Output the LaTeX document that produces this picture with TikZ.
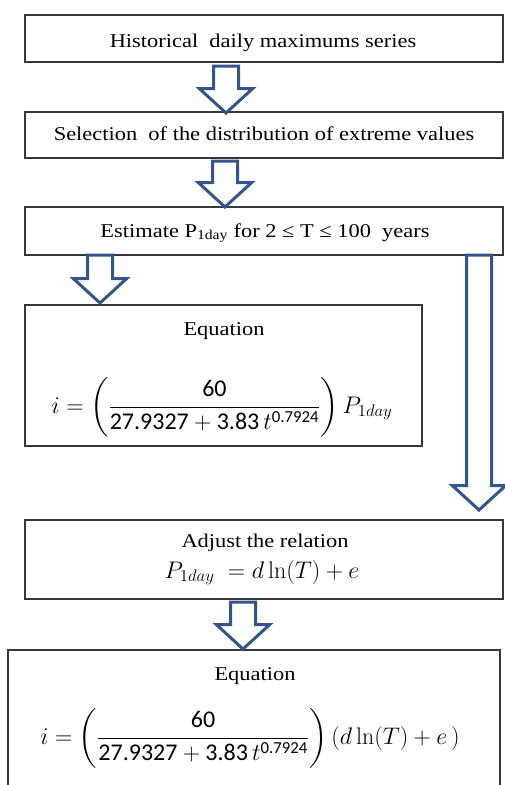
\RequirePackage{fix-cm}
\documentclass[tikz,border=0pt]{standalone}
\usepackage{amsmath}
\usepackage[no-math]{fontspec}
\setmainfont{Liberation Serif}[FakeStretch=1.15]
\newfontfamily\numf{Carlito}
\usetikzlibrary{shapes.arrows}
\definecolor{arrowblue}{RGB}{50,85,140}
\definecolor{boxgray}{RGB}{55,55,60}
\newcommand{\nm}[1]{\text{\numf #1}}
\tikzset{
  box/.style={draw=boxgray, line width=1.4pt, rectangle, inner sep=0pt, outer sep=0pt, anchor=north west},
  boxline/.style={draw=boxgray, line width=1.4pt},
  txt/.style={font=\fontsize{19.5}{22}\selectfont, inner sep=0pt, anchor=base},
  eqn/.style={font=\fontsize{24}{28}\selectfont, inner sep=0pt, anchor=base},
  blockarrow/.style={single arrow, draw=arrowblue, line width=3pt, fill=white,
    rotate=-90, anchor=tail, inner xsep=0pt, inner ysep=11pt, outer sep=0pt,
    single arrow head extend=14pt, single arrow tip angle=95}
}
\begin{document}
\begin{tikzpicture}[x=1pt,y=-1pt]
\useasboundingbox (0,0) rectangle (504,785);
\fill[white] (0,0) rectangle (504,785);
% boxes
\node[box, minimum width=478pt, minimum height=47pt] (b1) at (25,15) {};
\node[box, minimum width=478pt, minimum height=46pt] (b2) at (25,112) {};
\node[box, minimum width=478pt, minimum height=48pt] (b3) at (25,207) {};
\node[box, minimum width=397pt, minimum height=141pt] (b4) at (25,305) {};
\node[box, minimum width=478pt, minimum height=79pt] (b5) at (25,520) {};
\node[inner sep=0pt, outer sep=0pt, minimum width=492pt, minimum height=160pt, anchor=north west] (b6) at (8,650) {};
\draw[boxline] (b6.south west) -- (b6.north west) -- (b6.north east) -- (b6.south east);
% texts
\node[txt] (t1) at (263,47) {Historical\ \ daily maximums series};
\node[txt] (t2) at (264,140) {Selection\ \ of the distribution of extreme values};
\node[txt] (t3) at (265,237) {Estimate P\textsubscript{1day} for 2 ≤ T ≤ 100\ \ years};
\node[txt] (t4) at (224,335) {Equation};
\node[eqn] (e4) at (222,413) {$i=\left(\dfrac{\nm{60}}{\nm{27.9327}+\nm{3.83}\,t^{\nm{0.7924}}}\right)P_{1day}$};
\node[txt] (t5) at (265,547) {Adjust the relation};
\node[eqn] (e5) at (262,578) {$P_{1day}\ =d\ln(T)+e$};
\node[txt] (t6) at (255,680) {Equation};
\node[eqn] (e6) at (250,744) {$i=\left(\dfrac{\nm{60}}{\nm{27.9327}+\nm{3.83}\,t^{\nm{0.7924}}}\right)(d\ln(T)+e\,)$};
% arrows
\node[blockarrow, minimum height=47pt] (a1) at (226,66) {};
\node[blockarrow, minimum height=46pt] (a2) at (225,161) {};
\node[blockarrow, minimum height=48pt] (a3) at (100,255) {};
\node[blockarrow, minimum height=255pt] (ar) at (479,255) {};
\node[blockarrow, minimum height=47pt] (a5) at (243,602) {};
\end{tikzpicture}
\end{document}
